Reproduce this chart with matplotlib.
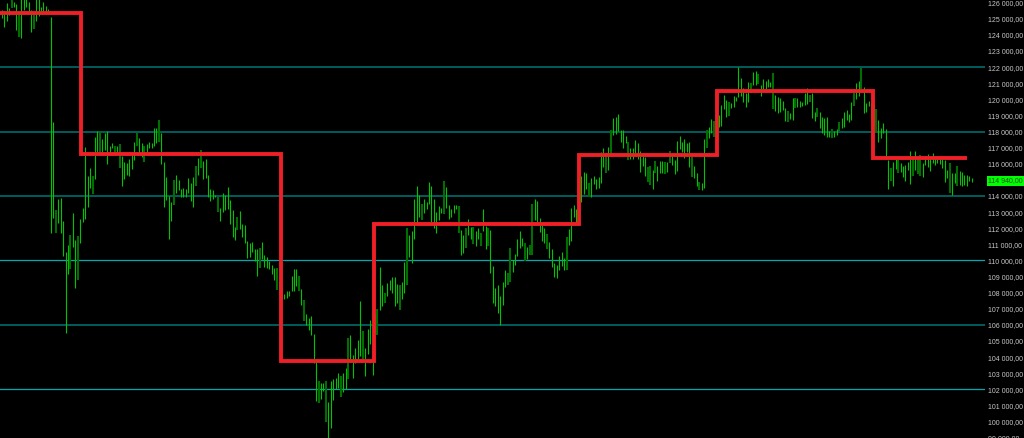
import matplotlib
matplotlib.use('Agg')
import matplotlib.pyplot as plt
import matplotlib.transforms as mtransforms
import numpy as np

highs = [125550,125360,125980,125670,126250,126050,125920,125360,126300,126350,
126280,126050,125550,125360,126250,126200,125740,126050,125800,125610,
125120,118610,113150,113830,113890,112470,110550,110980,111600,112960,
111290,111540,112590,113270,117060,115260,115750,115260,117680,118050,
118050,117550,117920,118050,117120,117300,117120,117120,117240,116500,
116130,116060,116310,116620,117370,117920,117610,117300,117120,117240,
117370,117300,118230,118230,118730,117920,116130,115200,114020,113650,
115010,115320,115010,114450,114510,114450,115130,114820,115200,115880,
116370,116870,116190,116310,115320,114450,114390,114080,113960,113270,
114200,114080,114580,113770,113150,112100,112720,113090,112280,112220,
111230,111100,111170,110730,110730,110790,111170,110360,110240,109990,
109740,109550,109550,108750,108380,107940,108070,108070,109060,109490,
109490,109060,108250,107570,106700,106450,106520,105460,103850,102490,
102420,102360,102490,101180,102490,102610,102670,103040,102800,102980,
103290,105210,105340,104100,104590,105030,107450,105590,104590,105770,
106330,106890,106760,107010,109620,108500,108000,108620,108810,109000,
109000,108560,108500,108690,109930,112030,111600,111850,113830,114640,
114080,113520,113830,113650,114890,114640,113830,113030,113400,113270,
114950,114580,113460,113210,113460,113460,113400,111910,111600,112030,
112590,112100,112100,111850,112030,111720,113210,112160,112030,111910,
109680,108310,108500,107760,108690,109430,109240,110790,110050,110420,
111350,111850,111410,111100,110860,110980,113520,113830,113710,112650,
112410,112030,111660,111170,110730,109860,109740,110300,110550,110170,
111480,111970,113270,113460,113210,113960,115260,115510,115440,114820,
115130,115260,115070,115200,116750,116990,116560,117060,118110,118850,
118920,119100,118110,118110,117740,117370,116990,116990,117490,117300,
116810,116500,116440,115820,115880,115630,116190,115880,116190,116190,
116130,116130,116810,116680,116250,117430,117740,117370,117550,117300,
117370,116440,115880,115440,114890,114820,117550,118110,118300,118790,
118670,118420,119040,119660,120280,119970,119850,119780,120220,120160,
122020,121330,120710,120400,121090,121020,121710,121770,121580,120900,
121270,121150,121270,121090,121640,120280,120160,120090,119910,119470,
119290,119160,120090,120090,120090,119910,119850,120400,120710,120280,
120400,119230,119470,119230,118920,118850,118920,118050,118170,118050,
118170,118610,118850,119230,119350,119100,119850,120400,121020,121150,
121950,120780,119780,119910,119780,119660,119410,118730,118230,118540,
118170,116250,115750,116130,116310,116250,116060,115880,115940,116130,
116810,116440,116810,116310,116560,116060,116500,116620,116370,116680,
116370,116500,116500,116310,116250,115630,116060,115440,115440,115880,
115570,115510,115320,115320,115260,115130]

lows = [125050,124500,124870,125240,125670,125740,124310,123880,123810,125550,
125740,125360,124190,124370,124870,125180,125360,125430,125360,125360,
111720,112650,111720,112340,111720,110300,105520,109180,109490,110860,
108310,108810,111100,112410,112590,113340,114510,114140,115070,116680,
116680,116680,116870,116000,116680,116990,116680,116680,115750,114640,
115070,115320,115260,115690,116250,117120,116680,116440,116130,116750,
116990,116990,117120,117300,117370,116000,113340,113770,111350,112470,
113460,114200,114390,113960,113960,113960,114200,113710,113340,114640,
115320,115750,115070,115130,113960,113710,113830,113960,113030,112470,
113030,113150,113210,112280,111480,111290,111910,111970,111480,111100,
110170,110240,110550,109990,109060,109550,110110,109620,109550,109490,
109180,108810,108190,107940,107570,107630,107690,107760,108070,108070,
108440,108130,107260,106210,106020,105650,105340,103660,101250,101120,
101370,101870,99940,98900,99570,101310,101990,102110,101490,101800,
101990,102610,103790,102730,103660,103850,104040,103730,102800,104220,
104780,102860,105520,105340,106950,107140,107380,107820,108190,108000,
107200,107380,106950,107630,108000,108500,110240,109860,111350,112340,
112720,112530,112960,113210,113520,112410,112030,111720,112530,112960,
112900,113270,112590,112720,112960,113210,111720,110360,110480,110790,
111600,111350,111040,110920,111350,110920,111850,110730,110920,109240,
107380,107200,106760,106020,107260,108380,108500,108690,109310,109740,
110300,110790,110920,109990,110110,110360,110360,112530,112410,111790,
111230,111100,110730,110170,109620,109000,108930,109430,109680,109430,
109430,110980,111230,112720,112340,112960,113650,114140,114450,113960,
113960,114760,114450,114510,114820,115820,115440,115630,116560,117800,
117860,118050,117370,116990,117300,116250,116310,116310,116560,116310,
115510,115880,115260,114890,114700,114450,115440,114950,115440,115440,
115380,115510,116060,115940,115380,115570,116930,116750,116370,116750,
115820,115200,115130,114640,114390,114390,114510,116990,117610,117920,
117680,116560,118300,118360,119410,118920,118980,119470,119540,119910,
120160,120220,119850,119540,119850,120400,120900,120900,120960,120220,
120650,120650,120780,120780,119410,119290,119160,119230,119350,118670,
118610,118790,118730,119470,119540,119540,119600,119660,119720,119850,
118850,118670,118920,118230,117920,117800,117680,117680,117610,117680,
117800,118050,118230,118300,118730,118610,118730,119600,120030,120220,
120650,119160,119230,119600,118730,118420,117920,117370,117610,117920,
116440,114450,114950,114640,115690,115440,115510,115200,114950,115630,
114760,115260,115630,115380,115260,115200,115940,115820,115570,116060,
115940,116060,116000,115750,114890,115130,114200,114080,114820,114640,
114700,114640,114700,114640,114950,114890]

down_bars = [4,7,13,22,28,31,37,40,46,48,55,58,64,70,79,81,88,96,105,112,
121,123,129,132,138,141,147,153,156,162,165,171,180,186,189,192,195,198,
206,207,213,215,216,222,230,239,246,248,255,263,264,266,270,272,281,284,
287,290,296,305,308,314,320,323,329,332,338,341,347,350,356,362,365,371,
373,374,386,389]

step_edges = [-0.7, 32.1, 113.9, 151.6, 235.1, 291.3, 354.8, 392.9]
step_levels = [125345, 116620, 103730, 112280, 116540, 120530, 116330]

major_levels = [122000, 118000, 114000, 106000]
minor_levels = [110000, 102000]
price_ticks = [v for v in range(99000, 126001, 1000) if v != 115000]
last_price = 114940

def fmt(v):
    return f"{v:,.2f}".replace(',', ' ').replace('.', ',')

LABEL_FONT = ['Liberation Sans', 'DejaVu Sans']

fig = plt.figure(figsize=(10.24, 4.38), dpi=100, facecolor='black')
ax = fig.add_axes([0, 0, 985/1024, 1])
ax.set_facecolor('black')
for s in ax.spines.values():
    s.set_visible(False)
ax.set_xlim(-0.69, 400.37)
ax.set_ylim(98975, 126166)
ax.set_xticks([])

for lv in major_levels:
    ax.axhline(lv, color='#006464', linewidth=1.3, zorder=1)
for lv in minor_levels:
    ax.axhline(lv, color='#00a8b0', linewidth=0.9, zorder=1)

idx = np.arange(len(highs))
hi = np.array(highs)
lo = np.array(lows)
down = np.isin(idx, down_bars)
ax.vlines(idx[~down], lo[~down], hi[~down], colors='#00c400', linewidth=0.8, zorder=2)
ax.vlines(idx[down], lo[down], hi[down], colors='#006e00', linewidth=1.5, zorder=2)

sx, sy = [], []
for k, lv in enumerate(step_levels):
    sx += [step_edges[k], step_edges[k + 1]]
    sy += [lv, lv]
ax.plot(sx, sy, color='#ee1f26', linewidth=2.8, zorder=3,
        solid_joinstyle='miter', solid_capstyle='butt')

ax.yaxis.tick_right()
ax.set_yticks(price_ticks)
ax.set_yticklabels([fmt(v) for v in price_ticks])
ax.tick_params(axis='y', length=0, pad=2.0, labelsize=5, labelcolor='#c8c8c8')
for t in ax.get_yticklabels():
    t.set_family(LABEL_FONT)

trans = mtransforms.blended_transform_factory(ax.transAxes, ax.transData)
ax.text(1.0035, last_price, fmt(last_price), transform=trans, ha='left', va='center',
        fontsize=5, color='#1e4a1e', family=LABEL_FONT,
        bbox=dict(facecolor='#00ff00', edgecolor='none', pad=1.3), clip_on=False, zorder=5)

fig.savefig('out.png', dpi=100, facecolor='black')
